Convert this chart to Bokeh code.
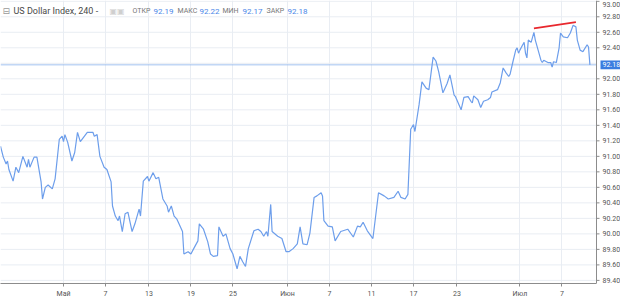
from bokeh.plotting import figure
from bokeh.models import Range1d, FixedTicker, Label
from bokeh.core.properties import value
from bokeh.embed import file_html
from bokeh.resources import INLINE

# 4-hour bar index (weekend gaps removed) and closing values
bars = [0, 2, 4, 5, 6, 9, 11, 13, 16, 19, 20, 21, 24, 26, 29, 30, 32, 34, 37, 39,
        42, 44, 45, 46, 48, 51, 53, 55, 57, 62, 66, 67, 69, 71, 74, 76, 79, 80, 82, 84,
        85, 87, 89, 91, 94, 96, 99, 100, 102, 105, 106, 109, 111, 113, 116, 119, 120, 122, 124, 126,
        127, 130, 131, 134, 136, 138, 141, 142, 145, 148, 150, 152, 155, 156, 159, 161, 164, 166, 169, 171,
        173, 175, 177, 181, 184, 186, 188, 190, 191, 193, 194, 198, 201, 204, 206, 209, 212, 214, 216, 219,
        221, 224, 226, 229, 230, 231, 234, 237, 239, 243, 248, 252, 255, 257, 259, 262, 266, 270, 274, 277,
        281, 284, 286, 289, 291, 293, 295, 296, 299, 301, 304, 306, 309, 311, 313, 316, 317, 319, 321, 324,
        325, 329, 331, 334, 336, 337, 338, 341, 343, 345, 348, 350, 351, 355, 357, 359, 361, 363, 364, 366,
        368, 369, 370, 371, 373, 374, 375, 376, 377, 379, 381, 382, 384, 386, 387, 388, 391, 393, 394, 395,
        397, 399, 400, 402, 405, 407, 409, 411, 412, 414, 416, 419, 420, 421]
close = [91.13, 90.99, 90.90, 90.94, 90.83, 90.68, 90.86, 90.79, 91.00, 90.86, 90.96, 90.86, 90.99, 90.99, 90.67, 90.45, 90.60, 90.63, 90.58, 90.71,
         91.22, 91.26, 91.19, 91.28, 91.18, 90.94, 91.05, 91.31, 91.19, 91.31, 91.31, 91.26, 91.28, 91.00, 90.86, 90.83, 90.67, 90.36, 90.23, 90.17,
         90.23, 90.03, 90.26, 90.28, 90.03, 90.13, 90.32, 90.23, 90.68, 90.74, 90.68, 90.79, 90.71, 90.73, 90.45, 90.36, 90.28, 90.36, 90.23, 90.19,
         90.15, 90.03, 89.74, 89.77, 89.74, 89.81, 89.91, 90.13, 90.06, 89.90, 89.74, 89.71, 89.72, 90.09, 89.97, 90.00, 89.81, 89.74, 89.55, 89.71,
         89.64, 89.58, 89.81, 90.04, 90.06, 90.03, 89.97, 90.03, 89.97, 90.38, 90.03, 89.97, 89.94, 89.77, 89.77, 89.81, 89.87, 90.09, 89.87, 89.86,
         90.01, 90.47, 90.49, 90.53, 90.49, 90.17, 90.10, 90.09, 89.91, 90.03, 90.06, 89.96, 90.10, 90.09, 90.15, 90.04, 89.94, 90.53, 90.49, 90.45,
         90.47, 90.55, 90.47, 90.45, 90.51, 91.35, 91.41, 91.32, 91.67, 91.96, 91.88, 91.86, 92.28, 92.23, 92.09, 91.82, 91.86, 91.94, 92.05, 91.79,
         91.77, 91.60, 91.76, 91.77, 91.71, 91.69, 91.78, 91.73, 91.63, 91.71, 91.73, 91.76, 91.83, 91.86, 91.95, 92.14, 92.08, 92.03, 92.06, 92.22,
         92.37, 92.40, 92.33, 92.37, 92.44, 92.47, 92.33, 92.27, 92.50, 92.47, 92.60, 92.50, 92.37, 92.24, 92.21, 92.24, 92.21, 92.21, 92.15, 92.22,
         92.21, 92.40, 92.59, 92.54, 92.53, 92.59, 92.69, 92.67, 92.50, 92.37, 92.35, 92.44, 92.41, 92.18]

tick_bars = [45, 75, 106, 136, 166, 205, 235, 265, 295, 326, 371, 401]
tick_labels = ["Май", "7", "13", "19", "25", "Июн", "7", "11", "17", "23", "Июл", "7"]
y_ticks = [89.4, 89.6, 89.8, 90.0, 90.2, 90.4, 90.6, 90.8, 91.0, 91.2, 91.4, 91.6,
           91.8, 92.0, 92.2, 92.4, 92.6, 92.8, 93.0]

trend_bars = [381, 411]
trend_vals = [92.65, 92.73]

title_text = "US Dollar Index, 240"
ohlc_names = ["ОТКР", "МАКС", "МИН", "ЗАКР"]
ohlc_vals = [92.19, 92.22, 92.17, close[-1]]

assert len(bars) == len(close)

X_END = 425.7            # last bar slot, at the price-scale border
PLOT_PX = 596.0          # pixel width of the chart pane
DX = X_END / PLOT_PX     # data units per pixel (x)
X_FULL = X_END + 24 * DX # price scale strip on the right
Y_LO, Y_HI = 89.36, 93.01
DY = (Y_HI - Y_LO) / 285.0
FONT = "Roboto"
AX_C = "#8c8c8c"
GRID_C = "#e9edf3"

p = figure(width=620, height=300, output_backend="svg", toolbar_location=None,
           x_range=Range1d(0, X_FULL), y_range=Range1d(Y_LO, Y_HI),
           y_axis_location=None, min_border=0,
           min_border_left=0, min_border_right=0, min_border_top=0, min_border_bottom=0)
p.outline_line_color = None
p.background_fill_color = "white"
p.border_fill_color = "white"

# vertical grid from the time axis
p.xgrid.ticker = FixedTicker(ticks=tick_bars)
p.xgrid.grid_line_color = GRID_C
p.ygrid.visible = False

last = close[-1]
xa = p.xaxis[0]
xa.ticker = FixedTicker(ticks=tick_bars)
xa.bounds = (0, X_END)
xa.major_label_overrides = {t: l for t, l in zip(tick_bars, tick_labels)}
xa.axis_line_color = AX_C
xa.major_tick_line_color = AX_C
xa.major_tick_out = 3
xa.major_tick_in = 0
xa.minor_tick_line_color = None
xa.major_label_text_font = FONT
xa.major_label_text_font_size = "7px"
xa.major_label_text_color = "#555555"
xa.major_label_standoff = 3

# horizontal grid lines (chart pane only)
n = len(y_ticks)
p.segment(x0=[0] * n, x1=[X_END] * n, y0=y_ticks, y1=y_ticks, line_color=GRID_C, line_width=1)

# current price line
p.segment(x0=[0], x1=[X_END], y0=[last], y1=[last], line_color="#a3c2f0", line_width=1)

# series and trend line
p.line(bars, close, line_color="#6d9eeb", line_width=1.2)
p.line(trend_bars, trend_vals, line_color="#e8282e", line_width=1.8)

# price scale on the right
shown = [t for t in y_ticks if abs(t - last) > 0.06]
m = len(shown)
label_y = [min(t, Y_HI - 4.5 * DY) for t in shown]   # keep the top label inside the canvas
p.segment(x0=[X_END], x1=[X_END], y0=[Y_LO], y1=[Y_HI], line_color=AX_C, line_width=1)
p.segment(x0=[X_END] * m, x1=[X_END + 3 * DX] * m, y0=shown, y1=shown, line_color=AX_C, line_width=1)
p.text(x=[X_END + 6 * DX] * m, y=label_y, text=[f"{t:.2f}" for t in shown],
       text_font=value(FONT), text_font_size=value("7px"), text_color="#555555",
       text_baseline="middle", text_align="left")

# current price tag
p.quad(left=[X_END + 4 * DX], right=[X_FULL], bottom=[last - 4.5 * DY], top=[last + 4.5 * DY],
       fill_color="#3b7de0", line_color=None)
p.text(x=[X_END + 6 * DX], y=[last], text=[f"{last:.2f}"],
       text_font=value(FONT), text_font_size=value("7px"), text_color="white",
       text_baseline="middle", text_align="left")

# header
ty = Y_HI - 11 * DY
p.add_layout(Label(x=2 * DX, y=ty, text="⊟", text_font="DejaVu Sans", text_font_size="9px",
                   text_color="#9a9a9a", text_baseline="middle"))
p.add_layout(Label(x=13 * DX, y=ty, text=title_text + " -", text_font=FONT, text_font_size="9px",
                   text_color="#4a4a4a", text_baseline="middle"))
p.add_layout(Label(x=109 * DX, y=ty, text="▣▣", text_font="DejaVu Sans", text_font_size="8px",
                   text_color="#cfcfcf", text_baseline="middle"))
name_x = [132, 177, 222, 266]
val_x = [153, 199, 242, 287]
for nm, v, nx, vx in zip(ohlc_names, ohlc_vals, name_x, val_x):
    p.add_layout(Label(x=nx * DX, y=ty, text=nm, text_font=FONT, text_font_size="7px",
                       text_color="#777777", text_baseline="middle"))
    p.add_layout(Label(x=vx * DX, y=ty, text=f"{v:.2f}", text_font=FONT, text_font_size="8px",
                       text_color="#4a86e8", text_baseline="middle"))

open("out.html", "w").write(file_html(p, INLINE))
